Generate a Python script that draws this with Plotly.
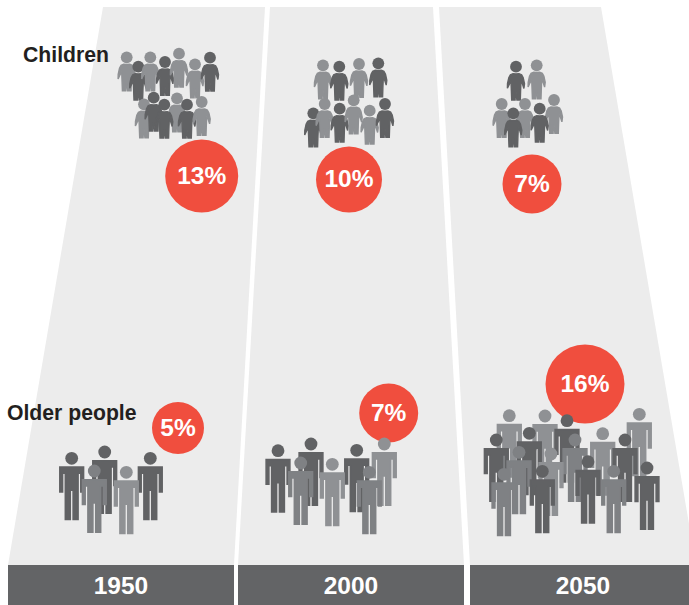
import plotly.graph_objects as go

years = ["1950", "2000", "2050"]
children_pct = [13, 10, 7]
older_pct = [5, 7, 16]
row_labels = ["Children", "Older people"]

# bubble centres and diameters
child_bubble_x = [201.7, 349, 532]
child_bubble_y = [176, 179.5, 184]
child_bubble_d = [73, 66, 59]
older_bubble_x = [178, 388.7, 585]
older_bubble_y = [428, 413, 384]
older_bubble_d = [52, 59, 79]

# panels: (top-left, top-right, bottom-right, bottom-left) x values
panel_x = [[103, 265, 234, 8], [270, 433, 464, 238], [439, 601, 696, 470]]
panel_top = 7
panel_bottom = 565
bar_x = [[8, 234], [238, 464], [470, 689]]
year_x = [121, 351, 583]

# pictogram head positions and tones: D dark, M mid, L light
child_x = [126.7, 138.3, 150.3, 165, 179, 195, 210,
           144, 153.7, 177, 164.3, 187, 201.7,
           323, 339.3, 359, 378.3, 313.3, 324.7, 339.7, 353.7, 369.7, 385,
           516, 536.7, 501.7, 525, 554, 513.3, 539.7]
child_y = [57.3, 66.7, 57.3, 62, 53.7, 64.3, 57.7,
           104.3, 97.7, 98.3, 104.7, 104.7, 102,
           65.3, 66.7, 64, 63.3, 113.3, 104, 108.7, 100.3, 110.7, 104,
           66.7, 65.3, 104, 104, 100, 113.3, 108.7]
child_tone = list("LDLDLLD" "LDLDDL" "LDLD" "DLDLLD" "DL" "LLLDD")
older_x = [71.7, 104.7, 150.3, 94.3, 126.3,
           278, 311, 356.7, 300.7, 332.3, 384.3, 369.3,
           509.3, 545, 567, 639.3, 602.7, 496.3, 529.3, 625, 575, 519, 551,
           588, 504, 542.3, 613.7, 647]
older_y = [458.3, 452, 458.3, 471, 472.3,
           450.7, 444, 450.3, 463, 464.3, 444, 472.3,
           415.7, 416, 420.7, 414.3, 433.7, 440, 433.3, 440, 440, 452.3, 454,
           461.7, 474.3, 471.3, 471.3, 468]
older_tone = list("DDDML" "DDDMLLM" "LLDLLDDDMML" "DMDMD")

GREY_PANEL = "#ececec"
BAR = "#636466"
RED = "#f04e3e"
TONES = {"D": "#616264", "M": "#7f8184", "L": "#8f9194"}
INK = "#231f20"

CHILD_HALF = [(0, 7.2), (3, 7), (5.6, 8), (7.2, 11), (8.5, 17), (8.6, 21.6), (7.9, 21.8),
              (6.4, 17), (5, 14.5), (4.6, 24), (4.3, 33.4), (0.9, 33.4), (0.6, 25), (0, 25)]
ADULT_HALF = [(0, 8.75), (11.9, 8.75), (11.9, 33.6), (9.1, 33.6), (9.1, 15), (6.4, 15),
              (6.4, 61.3), (1.4, 61.3), (1.4, 32), (0, 32)]


def outline(half):
    right = list(half)
    left = [(-x, y) for x, y in reversed(half)]
    return right + left + [right[0]]


def add_person(fig, x, y, tone, half, head_d, lw):
    pts = outline(half)
    fig.add_trace(go.Scatter(
        x=[x + p[0] for p in pts], y=[y + p[1] for p in pts],
        mode="lines", fill="toself", fillcolor=TONES[tone],
        line=dict(color=TONES[tone], width=lw), hoverinfo="skip", showlegend=False))
    fig.add_trace(go.Scatter(
        x=[x], y=[y], mode="markers",
        marker=dict(size=head_d, color=TONES[tone], opacity=1, line=dict(width=0)),
        hoverinfo="skip", showlegend=False))


fig = go.Figure()
shapes = []
for px in panel_x:
    path = (f"M{px[0]},{panel_top} L{px[1]},{panel_top} "
            f"L{px[2]},{panel_bottom} L{px[3]},{panel_bottom} Z")
    shapes.append(dict(type="path", path=path, fillcolor=GREY_PANEL, line=dict(width=0), layer="below"))
for bx in bar_x:
    shapes.append(dict(type="rect", x0=bx[0], x1=bx[1], y0=panel_bottom, y1=605,
                       fillcolor=BAR, line=dict(width=0), layer="below"))

# percentage bubbles
bubble_x = child_bubble_x + older_bubble_x
bubble_y = child_bubble_y + older_bubble_y
fig.add_trace(go.Scatter(
    x=bubble_x, y=bubble_y,
    mode="markers",
    marker=dict(size=child_bubble_d + older_bubble_d, color=RED, opacity=1, line=dict(width=0)),
    hoverinfo="skip", showlegend=False))
fig.add_trace(go.Scatter(
    x=bubble_x, y=[v + 1.5 for v in bubble_y],
    mode="text",
    text=[f"{v}%" for v in children_pct + older_pct], textposition="middle center",
    textfont=dict(family="Liberation Sans", size=24.5, color="white", weight="bold"),
    hoverinfo="skip", showlegend=False))

for x, y, t in zip(child_x, child_y, child_tone):
    add_person(fig, x, y, t, CHILD_HALF, 11.8, 1.4)
for x, y, t in zip(older_x, older_y, older_tone):
    add_person(fig, x, y, t, ADULT_HALF, 12.8, 1.5)

# year labels
fig.add_trace(go.Scatter(
    x=year_x, y=[588] * 3, mode="text", text=years, textposition="middle center",
    textfont=dict(family="Liberation Sans", size=24.5, color="white", weight="bold"),
    hoverinfo="skip", showlegend=False))

# row labels
fig.add_trace(go.Scatter(
    x=[23, 7], y=[57, 415], mode="text", text=row_labels, textposition="middle right",
    textfont=dict(family="Liberation Sans", size=21.2, color=INK, weight="bold"),
    hoverinfo="skip", showlegend=False))

fig.update_layout(
    width=689, height=605, margin=dict(l=0, r=0, t=0, b=0, pad=0),
    paper_bgcolor="white", plot_bgcolor="white", showlegend=False, shapes=shapes,
    xaxis=dict(range=[0, 689], visible=False, fixedrange=True),
    yaxis=dict(range=[605, 0], visible=False, fixedrange=True),
)
fig.write_html("out.html", config={"displayModeBar": False},
               post_script="document.body.style.margin='0';document.body.style.overflow='hidden';")
